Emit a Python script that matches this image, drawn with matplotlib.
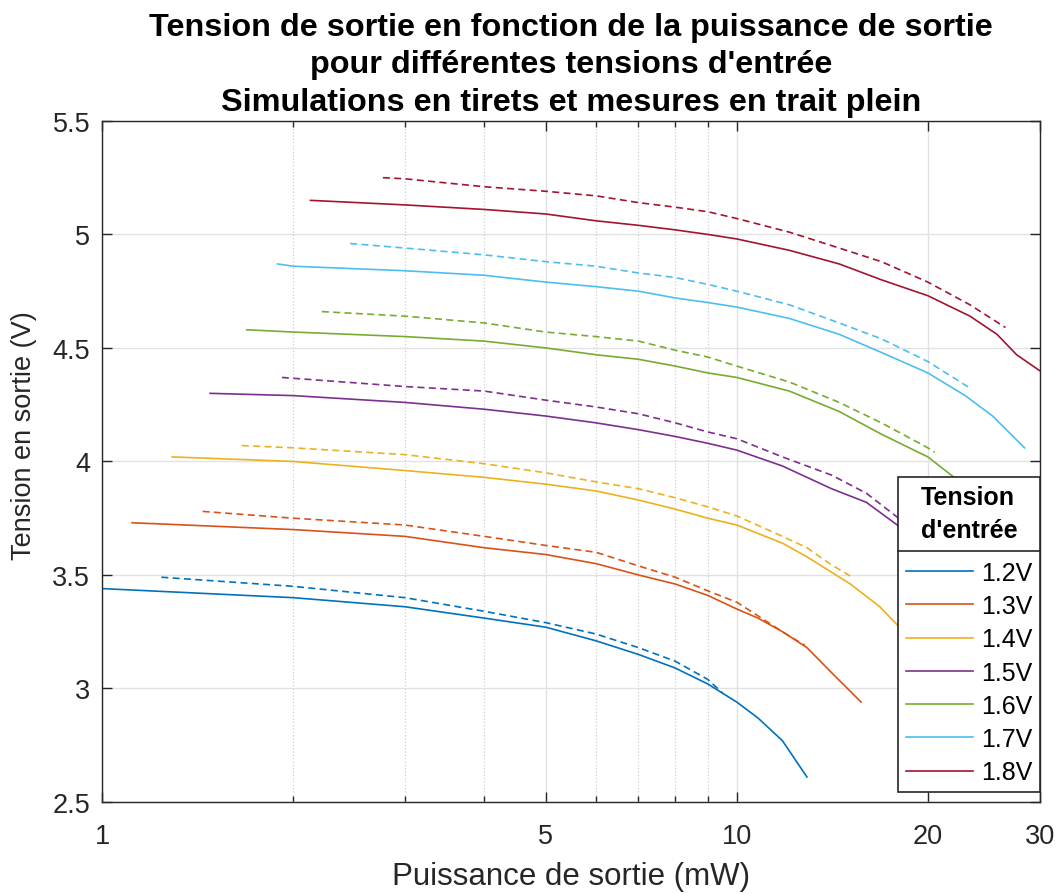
import numpy as np
import matplotlib.pyplot as plt
from matplotlib.ticker import FixedLocator, NullFormatter
from matplotlib.lines import Line2D

# mesures (trait plein) et simulations (tirets), puissance en mW, tension en V
p_mes_12 = [1.0, 2, 3, 4, 5, 6, 7, 8, 9, 10, 10.8, 11.8, 12.9]
v_mes_12 = [3.44, 3.40, 3.36, 3.31, 3.27, 3.21, 3.15, 3.09, 3.02, 2.94, 2.87, 2.77, 2.61]
p_sim_12 = [1.24, 2, 3, 4, 5, 6, 7, 8, 9, 9.5]
v_sim_12 = [3.49, 3.45, 3.40, 3.34, 3.29, 3.24, 3.18, 3.12, 3.04, 2.98]

p_mes_13 = [1.115, 2, 3, 4, 5, 6, 7, 8, 9, 10, 10.8, 11.8, 12.9, 14.1, 15.7]
v_mes_13 = [3.73, 3.70, 3.67, 3.62, 3.59, 3.55, 3.50, 3.46, 3.41, 3.35, 3.31, 3.25, 3.18, 3.07, 2.94]
p_sim_13 = [1.44, 2, 3, 4, 5, 6, 7, 8, 9, 10, 10.8, 11.8, 12.8]
v_sim_13 = [3.78, 3.75, 3.72, 3.67, 3.63, 3.60, 3.54, 3.49, 3.43, 3.38, 3.32, 3.25, 3.19]

p_mes_14 = [1.29, 2, 3, 4, 5, 6, 7, 8, 9, 10, 11.8, 12.9, 15.1, 16.8, 17.9, 19.5]
v_mes_14 = [4.02, 4.00, 3.96, 3.93, 3.90, 3.87, 3.83, 3.79, 3.75, 3.72, 3.64, 3.58, 3.46, 3.36, 3.28, 3.15]
p_sim_14 = [1.66, 2, 3, 4, 5, 6, 7, 8, 9, 10, 11.8, 12.9, 14, 15.2]
v_sim_14 = [4.07, 4.06, 4.03, 3.99, 3.95, 3.91, 3.88, 3.84, 3.80, 3.76, 3.67, 3.62, 3.55, 3.49]

p_mes_15 = [1.48, 2, 3, 4, 5, 6, 7, 8, 9, 10, 11.8, 14.1, 16, 17.9, 20]
v_mes_15 = [4.30, 4.29, 4.26, 4.23, 4.20, 4.17, 4.14, 4.11, 4.08, 4.05, 3.98, 3.88, 3.82, 3.72, 3.58]
p_sim_15 = [1.92, 3, 4, 5, 6, 7, 8, 9, 10, 11.8, 14.1, 16, 17.8, 20]
v_sim_15 = [4.37, 4.33, 4.31, 4.27, 4.24, 4.21, 4.17, 4.13, 4.10, 4.02, 3.94, 3.86, 3.76, 3.64]

p_mes_16 = [1.69, 2, 3, 4, 5, 6, 7, 8, 9, 10, 12.1, 14.5, 16.9, 20, 22, 24]
v_mes_16 = [4.58, 4.57, 4.55, 4.53, 4.50, 4.47, 4.45, 4.42, 4.39, 4.37, 4.31, 4.22, 4.12, 4.02, 3.93, 3.80]
p_sim_16 = [2.22, 3, 4, 5, 6, 7, 8, 9, 10, 12.1, 14.5, 16.9, 20, 20.5]
v_sim_16 = [4.66, 4.64, 4.61, 4.57, 4.55, 4.53, 4.49, 4.46, 4.42, 4.35, 4.26, 4.17, 4.06, 4.04]

p_mes_17 = [1.89, 2, 3, 4, 5, 6, 7, 8, 9, 10, 12.1, 14.5, 16.9, 20, 22.9, 25.3, 28.4]
v_mes_17 = [4.87, 4.86, 4.84, 4.82, 4.79, 4.77, 4.75, 4.72, 4.70, 4.68, 4.63, 4.56, 4.48, 4.39, 4.29, 4.20, 4.06]
p_sim_17 = [2.46, 3, 4, 5, 6, 7, 8, 9, 10, 12.1, 14.5, 16.9, 20, 23.4]
v_sim_17 = [4.96, 4.94, 4.91, 4.88, 4.86, 4.83, 4.81, 4.78, 4.75, 4.69, 4.61, 4.54, 4.44, 4.32]

p_mes_18 = [2.13, 3, 4, 5, 6, 7, 8, 9, 10, 12.1, 14.5, 16.9, 20, 23.3, 25.7, 27.6, 30]
v_mes_18 = [5.15, 5.13, 5.11, 5.09, 5.06, 5.04, 5.02, 5.00, 4.98, 4.93, 4.87, 4.80, 4.73, 4.64, 4.56, 4.47, 4.40]
p_sim_18 = [2.77, 3, 4, 5, 6, 7, 8, 9, 10, 12.1, 14.5, 16.9, 20, 23.3, 26.5]
v_sim_18 = [5.25, 5.245, 5.21, 5.19, 5.17, 5.14, 5.12, 5.10, 5.07, 5.01, 4.94, 4.88, 4.79, 4.69, 4.59]

tensions = ["1.2V", "1.3V", "1.4V", "1.5V", "1.6V", "1.7V", "1.8V"]
couleurs = ["#0072BD", "#D95319", "#EDB120", "#7E2F8E", "#77AC30", "#4DBEEE", "#A2142F"]

mesures = [(p_mes_12, v_mes_12), (p_mes_13, v_mes_13), (p_mes_14, v_mes_14), (p_mes_15, v_mes_15),
           (p_mes_16, v_mes_16), (p_mes_17, v_mes_17), (p_mes_18, v_mes_18)]
simus = [(p_sim_12, v_sim_12), (p_sim_13, v_sim_13), (p_sim_14, v_sim_14), (p_sim_15, v_sim_15),
         (p_sim_16, v_sim_16), (p_sim_17, v_sim_17), (p_sim_18, v_sim_18)]

plt.rcParams['font.family'] = ['Liberation Sans', 'DejaVu Sans']
gris = "#262626"

fig = plt.figure(figsize=(10.63, 8.95), dpi=100)
ax = fig.add_axes([0.096, 0.1028, 0.882, 0.761])

for i in range(len(tensions)):
    ax.plot(mesures[i][0], mesures[i][1], color=couleurs[i], lw=1.2, label=tensions[i])
    ax.plot(simus[i][0], simus[i][1], color=couleurs[i], lw=1.2, ls=(0, (4.2, 2.6)))

ax.set_xscale('log')
ax.set_xlim(1, 30)
ax.set_ylim(2.5, 5.5)
ax.xaxis.set_major_locator(FixedLocator([1, 5, 10, 20, 30]))
ax.set_xticklabels(["1", "5", "10", "20", "30"])
ax.xaxis.set_minor_locator(FixedLocator([2, 3, 4, 6, 7, 8, 9]))
ax.xaxis.set_minor_formatter(NullFormatter())
ax.set_yticks([2.5, 3, 3.5, 4, 4.5, 5, 5.5])
ax.set_yticklabels(["2.5", "3", "3.5", "4", "4.5", "5", "5.5"])

ax.set_axisbelow(True)
ax.grid(which='major', color='#e2e2e2', lw=1.0)
ax.grid(which='minor', axis='x', color='#cfcfcf', ls=':', lw=0.9)
ax.tick_params(which='both', direction='in', top=True, right=True, colors=gris, labelsize=19.5, width=1.0)
ax.tick_params(which='major', length=7)
ax.tick_params(which='minor', length=4)
ax.tick_params(axis='x', which='major', pad=15)
ax.tick_params(axis='y', which='major', pad=8.5)
for s in ax.spines.values():
    s.set_color(gris)
    s.set_linewidth(1.0)

ax.set_xlabel("Puissance de sortie (mW)", fontsize=22.5, color=gris)
ax.set_ylabel("Tension en sortie (V)", fontsize=19.5, color=gris)
ax.xaxis.set_label_coords(0.5, -0.086)
ax.yaxis.set_label_coords(-0.069, 0.54)
ax.set_title("Tension de sortie en fonction de la puissance de sortie\n"
             "pour différentes tensions d'entrée\n"
             "Simulations en tirets et mesures en trait plein",
             fontsize=23.3, fontweight='bold', pad=8, linespacing=1.32)

leg = ax.legend(title="Tension\nd'entrée", loc='lower right', bbox_to_anchor=(1.0, 0.0147),
                borderaxespad=0, fancybox=False, edgecolor=gris, framealpha=1,
                fontsize=18, title_fontproperties={'weight': 'bold', 'size': 18},
                handlelength=2.68, labelspacing=0.37, handletextpad=0.32, borderpad=0.3)
leg.get_frame().set_linewidth(1.2)
leg.get_title().set_linespacing(1.45)
leg._legend_box.sep = 14

# trait sous le titre de la légende
fig.canvas.draw()
r = fig.canvas.get_renderer()
bl = leg.get_frame().get_window_extent(r)
bt = leg.get_title().get_window_extent(r)
hb = leg._legend_handle_box.get_window_extent(r)
inv = fig.transFigure.inverted()
ym = (bt.y0 + hb.y1) / 2
x0, y0 = inv.transform((bl.x0, ym))
x1, _ = inv.transform((bl.x1, ym))
fig.add_artist(Line2D([x0, x1], [y0, y0], color=gris, lw=1.2, transform=fig.transFigure))

fig.savefig("out.png", dpi=100)
